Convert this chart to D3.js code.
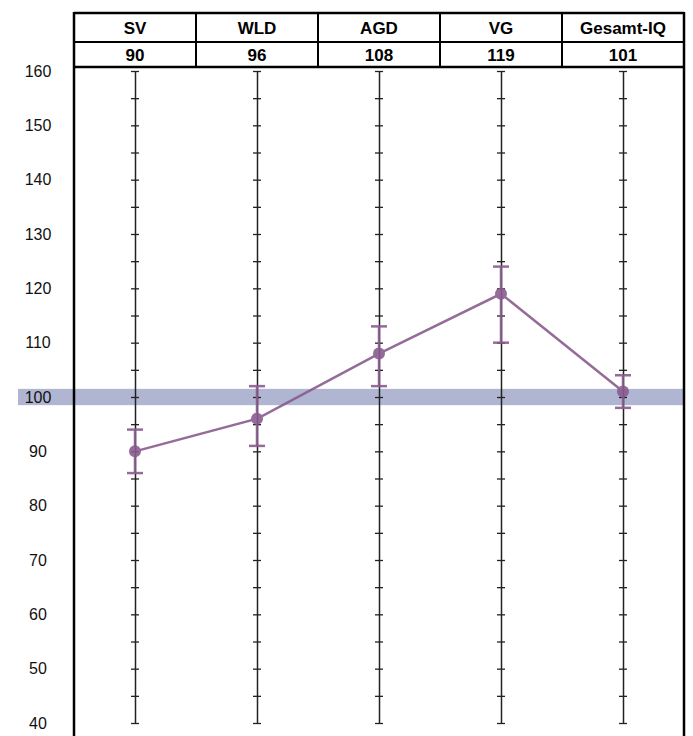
<!DOCTYPE html>
<html>
<head>
<meta charset="utf-8">
<script src="https://cdn.jsdelivr.net/npm/d3@7"></script>
<style>
  body { margin: 0; background: #fff; }
  text { font-family: "Liberation Sans", Arial, sans-serif; }
</style>
</head>
<body>
<script>
// scales / categories
var categories = ["SV", "WLD", "AGD", "VG", "Gesamt-IQ"];
var scores = [90, 96, 108, 119, 101];
var lower = [86, 91, 102, 110, 98];
var upper = [94, 102, 113, 124, 104];
var yTicks = [40, 50, 60, 70, 80, 90, 100, 110, 120, 130, 140, 150, 160];
var minorTicks = d3.range(40, 161, 5);
var band = [98.5, 101.5];

var W = 693, H = 736;
var left = 74, right = 684, hTop = 13, hMid = 42, hBot = 67;

var svg = d3.select("body").append("svg")
	.attr("width", W)
	.attr("height", H);

var x = d3.scaleBand().domain(categories).range([left, right]);
var y = d3.scaleLinear().domain([40, 160]).range([723, 71]);

// mean band
svg.append("rect")
	.attr("x", 18)
	.attr("y", y(band[1]))
	.attr("width", right - 18)
	.attr("height", y(band[0]) - y(band[1]))
	.attr("fill", "#b0b5d2");

// y labels
svg.selectAll("text.ylab")
	.data(yTicks)
	.enter().append("text")
		.attr("class", "ylab")
		.attr("x", 38)
		.attr("y", function(d) { return y(d); })
		.attr("dy", "0.35em")
		.attr("text-anchor", "middle")
		.attr("font-size", 16)
		.attr("fill", "#111")
		.text(function(d) { return d; });

// scale lines with small ticks
categories.forEach(function(c) {
	var cx = x(c) + x.bandwidth() / 2;
	var ax = svg.append("g")
		.attr("transform", "translate(" + (cx + 4) + ",0)")
		.call(d3.axisLeft(y).tickValues(minorTicks).tickSize(8).tickSizeOuter(0).tickFormat(""));
	ax.select(".domain").attr("transform", "translate(-4,0)").attr("stroke", "#222").attr("stroke-width", 1.5);
	ax.selectAll(".tick line").attr("stroke", "#222").attr("stroke-width", 1.3);
});

// header table
var hdr = svg.append("g");
hdr.selectAll("text.cat")
	.data(categories)
	.enter().append("text")
		.attr("x", function(d) { return x(d) + x.bandwidth() / 2; })
		.attr("y", (hTop + hMid) / 2 + 1)
		.attr("dy", "0.35em")
		.attr("text-anchor", "middle")
		.attr("font-size", 17)
		.attr("font-weight", "bold")
		.text(function(d) { return d; });
hdr.selectAll("text.val")
	.data(scores)
	.enter().append("text")
		.attr("x", function(d, i) { return x(categories[i]) + x.bandwidth() / 2; })
		.attr("y", (hMid + hBot) / 2 + 1)
		.attr("dy", "0.35em")
		.attr("text-anchor", "middle")
		.attr("font-size", 17)
		.attr("font-weight", "bold")
		.text(function(d) { return d; });

hdr.selectAll("line.sep")
	.data(categories.slice(1))
	.enter().append("line")
		.attr("x1", function(d) { return x(d); })
		.attr("x2", function(d) { return x(d); })
		.attr("y1", hTop)
		.attr("y2", hBot)
		.attr("stroke", "#000")
		.attr("stroke-width", 2);
hdr.append("line").attr("x1", left).attr("x2", right).attr("y1", hTop).attr("y2", hTop)
	.attr("stroke", "#000").attr("stroke-width", 2.5);
hdr.append("line").attr("x1", left).attr("x2", right).attr("y1", hMid).attr("y2", hMid)
	.attr("stroke", "#000").attr("stroke-width", 2);
hdr.append("line").attr("x1", left).attr("x2", right).attr("y1", hBot).attr("y2", hBot)
	.attr("stroke", "#000").attr("stroke-width", 2.5);
hdr.append("line").attr("x1", left).attr("x2", left).attr("y1", hTop - 1).attr("y2", H)
	.attr("stroke", "#000").attr("stroke-width", 2.5);
hdr.append("line").attr("x1", right).attr("x2", right).attr("y1", hTop - 1).attr("y2", H)
	.attr("stroke", "#000").attr("stroke-width", 2.5);

// profile
var purple = "#8a5c8e";
var cxOf = function(i) { return x(categories[i]) + x.bandwidth() / 2; };
var g = svg.append("g").attr("opacity", 0.9);

g.selectAll("line.err")
	.data(scores)
	.enter().append("line")
		.attr("x1", function(d, i) { return cxOf(i); })
		.attr("x2", function(d, i) { return cxOf(i); })
		.attr("y1", function(d, i) { return y(upper[i]); })
		.attr("y2", function(d, i) { return y(lower[i]); })
		.attr("stroke", purple)
		.attr("stroke-width", 2.5);
[upper, lower].forEach(function(arr) {
	g.selectAll(null)
		.data(arr)
		.enter().append("line")
			.attr("x1", function(d, i) { return cxOf(i) - 8; })
			.attr("x2", function(d, i) { return cxOf(i) + 8; })
			.attr("y1", function(d) { return y(d); })
			.attr("y2", function(d) { return y(d); })
			.attr("stroke", purple)
			.attr("stroke-width", 2.5);
});

g.append("path")
	.datum(scores)
	.attr("fill", "none")
	.attr("stroke", purple)
	.attr("stroke-width", 2.5)
	.attr("d", d3.line()
		.x(function(d, i) { return cxOf(i); })
		.y(function(d) { return y(d); }));

g.selectAll("circle")
	.data(scores)
	.enter().append("circle")
		.attr("cx", function(d, i) { return cxOf(i); })
		.attr("cy", function(d) { return y(d); })
		.attr("r", 6)
		.attr("fill", purple);
</script>
</body>
</html>
